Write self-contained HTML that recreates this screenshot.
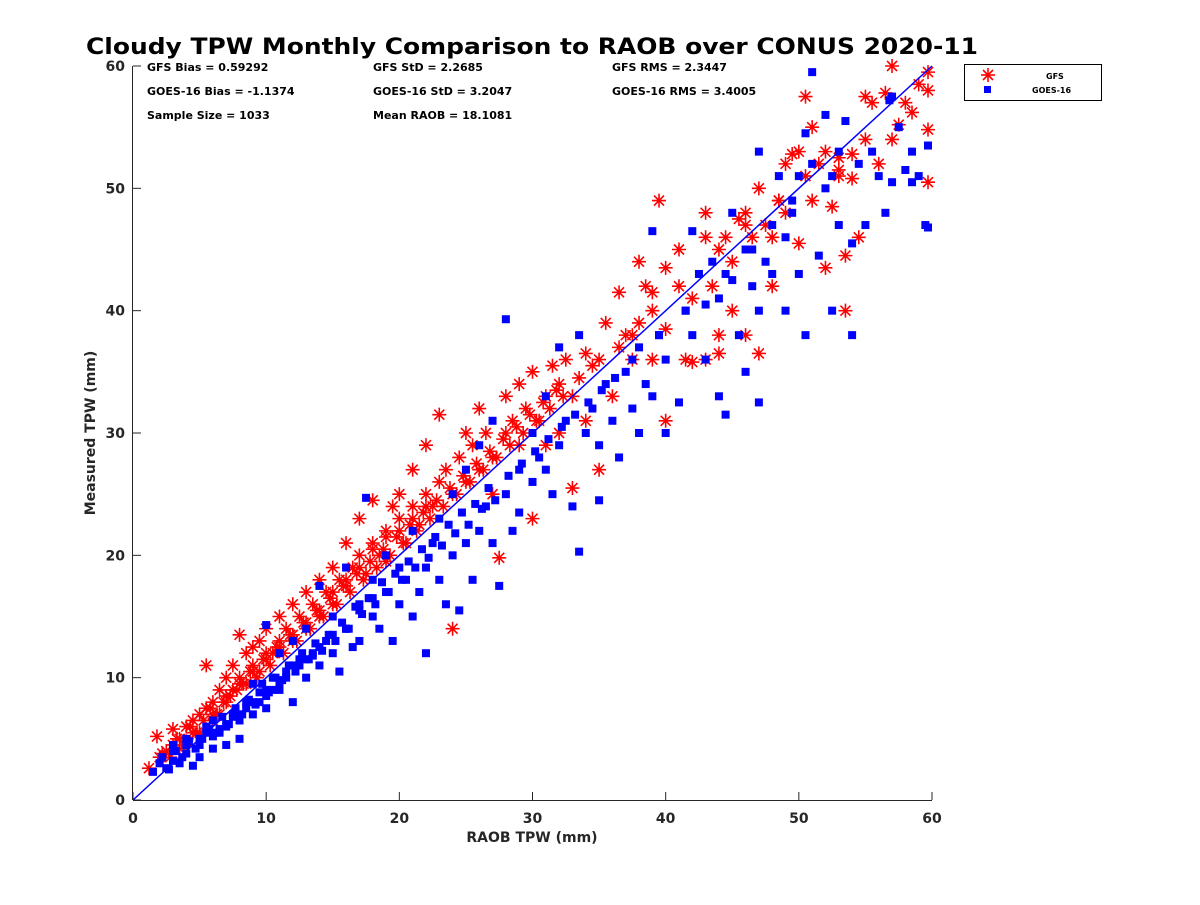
<!DOCTYPE html>
<html>
<head>
<meta charset="utf-8">
<style>
  html, body { margin: 0; padding: 0; background: #fff; }
  svg text { font-family: "DejaVu Sans", "Liberation Sans", sans-serif; font-weight: bold; }
</style>
</head>
<body>
<svg id="chart" width="1200" height="900" viewBox="0 0 1200 900" xmlns="http://www.w3.org/2000/svg">
  <rect x="0" y="0" width="1200" height="900" fill="#fff"/>
  <text x="532" y="54" text-anchor="middle" font-size="22" fill="#000" textLength="892" lengthAdjust="spacingAndGlyphs">Cloudy TPW Monthly Comparison to RAOB over CONUS 2020-11</text>
  <g font-size="11" fill="#000">
    <text x="147" y="71">GFS Bias = 0.59292</text>
    <text x="373" y="71">GFS StD = 2.2685</text>
    <text x="612" y="71">GFS RMS = 2.3447</text>
    <text x="147" y="95">GOES-16 Bias = -1.1374</text>
    <text x="373" y="95">GOES-16 StD = 3.2047</text>
    <text x="612" y="95">GOES-16 RMS = 3.4005</text>
    <text x="147" y="119">Sample Size = 1033</text>
    <text x="373" y="119">Mean RAOB = 18.1081</text>
  </g>
  <g id="marks"></g>
  <g id="axes"></g>
  <g>
    <rect x="964.5" y="64.5" width="137" height="36" fill="#fff" stroke="#000" stroke-width="1"/>
    <g stroke="#ff0000" stroke-width="1.6">
      <line x1="981" y1="75" x2="995" y2="75"/><line x1="988" y1="68" x2="988" y2="82"/>
      <line x1="983" y1="70" x2="993" y2="80"/><line x1="983" y1="80" x2="993" y2="70"/>
    </g>
    <text x="1046" y="79" font-size="8">GFS</text>
    <rect x="984" y="86" width="7" height="7" fill="#0000ff"/>
    <text x="1032" y="93" font-size="8">GOES-16</text>
  </g>
</svg>
<script>
const xTicks = [0, 10, 20, 30, 40, 50, 60];
const yTicks = [0, 10, 20, 30, 40, 50, 60];
const xLabel = "RAOB TPW (mm)";
const yLabel = "Measured TPW (mm)";
const gfsX = [1.2,1.8,2,2.5,3,3,3.5,4,4,4.5,5,5,5.5,5.5,6,6,6.5,6.5,7,7,7.5,7.5,8,8,8.5,8.5,9,9,9.5,9.5,10,10,10.5,11,11,11.5,12,12,12.5,13,13,13.5,14,14,14.5,15,15,15.5,16,16,16.5,17,17,17.5,18,18,18.5,19,19,19.5,20,20,20.5,21,21,21.5,22,22,22.5,23,23,23.5,24,24,24.5,25,25,25.5,26,26,26.5,27,27,27.5,28,28,28.5,29,29,29.5,30,30,30.5,31,31,31.5,32,32,32.5,33,33,34,34,35,35,35.5,36,36.5,37,37.5,38,38,38.5,39,39,39.5,40,40,40,41,41.5,42,42,43,43,43.5,44,44.5,45,45,45.5,46,46,46.5,47,47,47.5,48,48,48.5,49,49,49.5,50,50,50.5,50.5,51,51,52,52,52.5,53,53,53.5,53.5,54,54,54.5,55,55.5,56,56.5,57,57,57.5,58,58.5,59,59.7,59.7,59.7,59.7,53,44,43,3.5,4.5,6,7,8,9,10,11,12,13,14,15,16,17,18,19,20,21,22,
  2.2,2.8,3.3,3.8,4.3,4.8,5.3,5.8,6.3,6.8,7.3,7.8,8.3,8.8,9.3,9.8,10.3,10.8,11.3,11.8,12.3,12.8,13.3,13.8,14.3,14.8,15.3,15.8,16.3,16.8,17.3,17.8,18.3,18.8,19.3,19.8,20.3,20.8,21.3,21.8,22.3,22.8,23.3,23.8,24.3,24.8,25.3,25.8,26.3,26.8,27.3,27.8,28.3,28.8,29.3,29.8,30.3,30.8,31.3,31.8,32.3,33.5,34.5,36.5,37.5,39,41,44,46,48.5,51.5,55];
const gfsY = [2.6,5.2,3.5,4,4.5,5.8,5,6,4.8,6.5,7,5.5,11,7.5,8,6.5,9,7,10,8,11,9,13.5,10,12,9.5,12.5,11,13,10.5,12,14,12,13,15,14,13.5,16,15,14,17,16,15.5,18,17,16,19,18,21,17.5,19,20,23,18.5,21,24.5,20,22,19.5,24,23,25,21,24,27,22.5,25,29,24,26,31.5,27,25,14,28,26,30,29,27,32,30,28,25,19.8,30,33,31,29,34,32,23,35,31,33,29,35.5,34,30,36,25.5,33,36.5,31,27,36,39,33,41.5,38,36,39,44,42,41.5,36,49,38.5,31,43.5,45,36,35.8,41,48,46,42,38,46,44,40,47.5,48,38,46,50,36.5,47,46,42,49,52,48,52.8,53,45.5,57.5,51,55,49,53,43.5,48.5,52.5,51,44.5,40,50.8,52.8,46,57.5,57,52,57.8,60,54,55.2,57,56.2,58.5,59.5,58,54.8,50.5,51.5,36.5,36,4.2,5.5,7,8.5,9.5,10.5,11.5,12.5,13,14.5,15,17,18,19,20.5,21.5,22,23,24,
  3.8,3.5,5,4.5,6,5.5,6.5,7.5,7,8,8.5,9,9.5,10.5,10,11.5,11,12.5,12,13.5,13,14.5,14,15.5,15,16.5,16,17.5,17,18.5,18,19.5,19,20.5,20,21.5,21,22.5,22,23.5,23,24.5,24,25.5,25,26.5,26,27.5,27,28.5,28,29.5,29,30.5,30,31.5,31,32.5,32,33.5,33,34.5,35.5,37,38,40,42,45,47,49,52,54];
const goesX = [1.5,2,2.5,3,3,3.5,4,4,4.5,5,5,5.5,6,6,6.5,7,7,7.5,8,8,8.5,9,9,9.5,10,10,10,10.5,11,11,11.5,12,12,12.5,13,13,13.5,14,14,14.5,15,15,15.5,16,16,16.5,17,17,17.5,18,18,18.5,19,19,19.5,20,20,20.5,21,21,21.5,22,22,22.5,23,23,23.5,24,24,24.5,25,25,25.5,26,26,26.5,27,27,27.5,28,28,28.5,29,29,30,30,30.5,31,31,31.5,32,32,32.5,33,33.5,33.5,34,34.5,35,35,35.5,36,36.5,37,37.5,38,38,38.5,39,39,39.5,40,40,41,41.5,42,42,42.5,43,43,43.5,44,44,44.5,45,45,45.5,46,46,46.5,47,47,47,47.5,48,48,48.5,49,49,49.5,50,50,50.5,50.5,51,51,51.5,52,52,52.5,53,53,53.5,54,54,54.5,55,56,56.5,57,57,57.5,58,58.5,59,59.5,59.7,59.7,58.5,56.8,3,4,5,6,7,8,9,10,11,12,13,14,15,16,17,18,5.5,6.5,7.5,8.5,9.5,10.5,11.5,12.5,13.5,
  2.2,2.7,3.2,3.7,4.2,4.7,5.2,5.7,6.2,6.7,7.2,7.7,8.2,8.7,9.2,9.7,10.2,10.7,11.2,11.7,12.2,12.7,13.2,13.7,14.2,14.7,15.2,15.7,16.2,16.7,17.2,17.7,18.2,18.7,19.2,19.7,20.2,20.7,21.2,21.7,22.2,22.7,23.2,23.7,24.2,24.7,25.2,25.7,26.2,26.7,27.2,28.2,29.2,30.2,31.2,32.2,33.2,34.2,35.2,36.2,37.5,39.5,41.5,44.5,46.5,49.5,52.5,55.5];
const goesY = [2.3,3,2.6,3.2,4.5,3,5,3.8,2.8,4.5,3.5,5.5,4.2,6.5,5.5,6,4.5,7,6.5,5,8,7,9.5,8,9,14.3,7.5,10,9,12,10.5,8,13,11,10,14,12,11,17.5,13,12,15,10.5,14,19,12.5,16,13,24.7,15,18,14,17,20,13,16,19,18,15,22,17,19,12,21,18,23,16,20,25,15.5,21,27,18,22,29,24,21,31,17.5,25,39.3,22,27,23.5,26,30,28,27,33,25,29,37,31,24,20.3,38,30,32,29,24.5,34,31,28,35,32,37,30,34,33,46.5,38,36,30,32.5,40,38,46.5,43,36,40.5,44,33,41,31.5,42.5,48,38,35,45,42,40,53,32.5,44,47,43,51,46,40,49,51,43,38,54.5,59.5,52,44.5,56,50,40,47,53,55.5,38,45.5,52,47,51,48,50.5,57.5,55,51.5,53,51,47,53.5,46.8,50.5,57.2,4,4.5,5,5.2,6.2,7,8,8.5,9.5,11,11.5,12.5,13.5,14,15.5,16.5,6,5.8,6.8,7.5,8.8,9,10,11.5,11.8,
  3.5,2.5,4,3.5,4.8,4.2,5,5.8,5.5,6.8,6.2,7.5,7,8.2,7.8,9.5,8.8,10,9.8,11,10.5,12,11.5,12.8,12.2,13.5,13,14.5,14,15.8,15.2,16.5,16,17.8,17,18.5,18,19.5,19,20.5,19.8,21.5,20.8,22.5,21.8,23.5,22.5,24.2,23.8,25.5,24.5,26.5,27.5,28.5,29.5,30.5,31.5,32.5,33.5,34.5,36,38,40,43,45,48,51,53];

const svgNS = "http://www.w3.org/2000/svg";
const X0 = 133, X1 = 932, Y0 = 800, Y1 = 66;
function xs(v) { return X0 + (v - 0) / 60 * (X1 - X0); }
function ys(v) { return Y0 - (v - 0) / 60 * (Y0 - Y1); }
function mk(tag, attrs) { const e = document.createElementNS(svgNS, tag); for (const k in attrs) e.setAttribute(k, attrs[k]); return e; }

const marks = document.getElementById('marks');
const gG = mk('g', {stroke: '#ff0000', 'stroke-width': 1.6});


marks.appendChild(gG);
for (let i = 0; i < gfsX.length; i++) {
  const cx = xs(gfsX[i]), cy = ys(gfsY[i]), r = 7, d = 5;
  const p = mk('path', {d: `M${cx-r},${cy}H${cx+r}M${cx},${cy-r}V${cy+r}M${cx-d},${cy-d}L${cx+d},${cy+d}M${cx-d},${cy+d}L${cx+d},${cy-d}`, fill: 'none'});
  
  
  gG.appendChild(p);
}
const bG = mk('g', {fill: '#0000ff'});


marks.appendChild(bG);
for (let i = 0; i < goesX.length; i++) {
  const r = mk('rect', {x: xs(goesX[i]) - 4, y: ys(goesY[i]) - 4, width: 8, height: 8});
  
  
  bG.appendChild(r);
}
const ref = mk('line', {x1: xs(0), y1: ys(0), x2: xs(60), y2: ys(60), stroke: '#0000ff', 'stroke-width': 1.5});


marks.appendChild(ref);

const axes = document.getElementById('axes');
const xa = mk('line', {x1: X0, y1: Y0 + 0.5, x2: X1, y2: Y0 + 0.5, stroke: '#262626', 'stroke-width': 1});


axes.appendChild(xa);
const ya = mk('line', {x1: X0 - 0.5, y1: Y0, x2: X0 - 0.5, y2: Y1, stroke: '#262626', 'stroke-width': 1});


axes.appendChild(ya);
xTicks.forEach(t => {
  const l = mk('line', {x1: xs(t), y1: Y0, x2: xs(t), y2: Y0 - 8, stroke: '#262626'});
  
  
  axes.appendChild(l);
  const tx = mk('text', {x: xs(t), y: Y0 + 23, 'text-anchor': 'middle', 'font-size': 14, fill: '#262626'});
  tx.textContent = t;
  
  
  axes.appendChild(tx);
});
yTicks.forEach(t => {
  const l = mk('line', {x1: X0, y1: ys(t), x2: X0 + 8, y2: ys(t), stroke: '#262626'});
  
  
  axes.appendChild(l);
  const tx = mk('text', {x: X0 - 8, y: ys(t) + 5, 'text-anchor': 'end', 'font-size': 14, fill: '#262626'});
  tx.textContent = t;
  
  
  axes.appendChild(tx);
});
const xt = mk('text', {x: 532, y: 842, 'text-anchor': 'middle', 'font-size': 14, fill: '#262626'});
xt.textContent = xLabel;


axes.appendChild(xt);
const yt = mk('text', {x: 95, y: 433, 'text-anchor': 'middle', 'font-size': 14, fill: '#262626', transform: 'rotate(-90 95 433)'});
yt.textContent = yLabel;


axes.appendChild(yt);
</script>
</body>
</html>
